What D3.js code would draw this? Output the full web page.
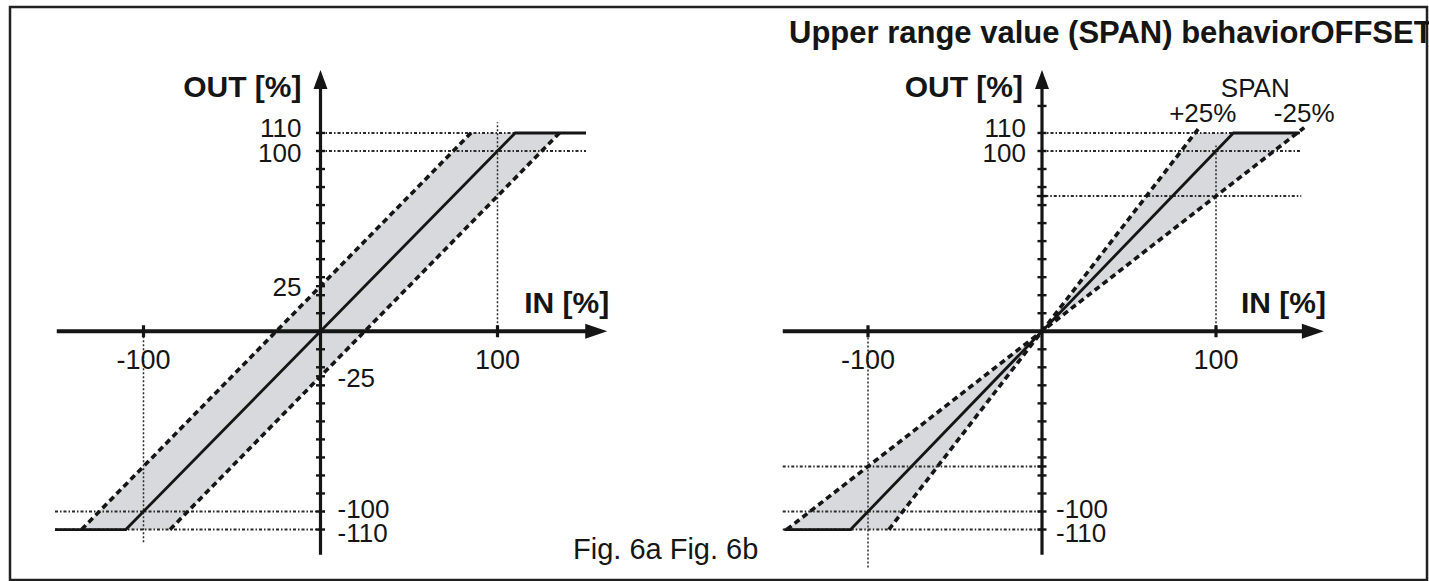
<!DOCTYPE html>
<html>
<head>
<meta charset="utf-8">
<script src="https://cdn.jsdelivr.net/npm/d3@7"></script>
<style>
    body { margin: 0; background: #fff; }
    text { font-family: "Liberation Sans", Arial, sans-serif; fill: #151515; }
</style>
</head>
<body>
<svg id="chart"></svg>
<script>
// ---- data ----
const titleText = "Upper range value (SPAN) behaviorOFFSET";
const captionText = "Fig. 6a Fig. 6b";
const outTitle = "OUT [%]";
const inTitle = "IN [%]";

// Fig. 6a : zero point (OFFSET) shifted by +/-25 %
const offsetCurve = [[-150, -110], [-110, -110], [110, 110], [150, 110]];
const offsetUpper = [[-135, -110], [85, 110]];
const offsetLower = [[-85, -110], [135, 110]];
const offsetBand = [[-135, -110], [85, 110], [135, 110], [-85, -110]];
const offsetYTicks = [110, 100, 90, 80, 70, 60, 50, 40, 30, 25, 20, 10, -10, -20, -25, -30, -40, -50, -60, -70, -80, -90, -100, -110];
const offsetYLabels = [110, 100, 25, -25, -100, -110];
const offsetXLabels = [-100, 100];
// [value, from, to]
const offsetHGuides = [[110, 0, 150], [100, 0, 150], [-100, -150, 3], [-110, -150, 0]];
const offsetVGuides = [[100, 0, 116], [-100, -117, 0]];

// Fig. 6b : upper range value (SPAN) changed by +/-25 %
const spanCurve = [[-148, -110], [-110, -110], [110, 110], [148, 110]];
const spanPlus = [[-88, -110], [90.4, 113]];
const spanMinus = [[-146.7, -110], [150.7, 113]];
const spanBandTop = [[0, 0], [88, 110], [146.7, 110]];
const spanBandBottom = [[0, 0], [-88, -110], [-146.7, -110]];
const spanYTicks = [125, 110, 100, 90, 80, 75, 70, 60, 50, 40, 30, 20, 10, -10, -20, -30, -40, -50, -60, -70, -75, -80, -90, -100, -110];
const spanYLabels = [110, 100, -100, -110];
const spanXLabels = [-100, 100];
const spanHGuides = [[110, 0, 149], [100, 0, 149], [75, -3, 149], [-75, -149, 0], [-100, -149, 0], [-110, -149, 0]];
const spanVGuides = [[100, 0, 103], [-100, -131, 0]];
const spanNames = ["SPAN", "+25%", "-25%"];

// ---- layout ----
const W = 1429, H = 581;
const svg = d3.select("#chart").attr("width", W).attr("height", H);

const yScale = d3.scaleLinear().domain([-100, 100]).range([511.5, 151]);
const panels = [
    { x: d3.scaleLinear().domain([-100, 100]).range([143.5, 497.5]) },
    { x: d3.scaleLinear().domain([-100, 100]).range([868, 1216]) }
];
const xExtent = [-149, 162], yExtent = [-124, 145];
const labelNudge = { "110": 4, "100": 11, "25": 10, "-25": 11, "-100": 6, "-110": 12 };

// frame
svg.append("rect")
    .attr("x", 10).attr("y", 7)
    .attr("width", 1417).attr("height", 573)
    .attr("fill", "none").attr("stroke", "#222").attr("stroke-width", 2.5);

function drawPanel(p, cfg) {
    const x = p.x, y = yScale;
    const g = svg.append("g");
    const line = d3.line().x(d => x(d[0])).y(d => y(d[1]));
    const x0 = x(0), y0 = y(0);

    // grey band
    cfg.bands.forEach(b => {
        g.append("path").attr("d", line(b) + "Z")
            .attr("fill", "#d8d9dc").attr("stroke", "none");
    });

    // dotted guides
    g.selectAll(".hg").data(cfg.hGuides).join("line")
        .attr("x1", d => x(d[1])).attr("x2", d => x(d[2]))
        .attr("y1", d => y(d[0])).attr("y2", d => y(d[0]))
        .attr("stroke", "#2a2a2a").attr("stroke-width", 1.9)
        .attr("stroke-dasharray", "3,2,1.5,2");
    g.selectAll(".vg").data(cfg.vGuides).join("line")
        .attr("x1", d => x(d[0])).attr("x2", d => x(d[0]))
        .attr("y1", d => y(d[1])).attr("y2", d => y(d[2]))
        .attr("stroke", "#2a2a2a").attr("stroke-width", 1.5)
        .attr("stroke-dasharray", "2,2");

    // dashed limit lines
    cfg.dashed.forEach(l => {
        g.append("path").attr("d", line(l))
            .attr("fill", "none").attr("stroke", "#151515")
            .attr("stroke-width", 3.6).attr("stroke-dasharray", "6,4");
    });

    // characteristic
    g.append("path").attr("d", line(cfg.curve))
        .attr("fill", "none").attr("stroke", "#151515").attr("stroke-width", 2.8);

    // axes
    g.append("line")
        .attr("x1", x(xExtent[0])).attr("x2", x(xExtent[1]) - 16)
        .attr("y1", y0).attr("y2", y0)
        .attr("stroke", "#151515").attr("stroke-width", 3.8);
    g.append("path")
        .attr("d", `M${x(xExtent[1])},${y0} l-22,-7.5 l0,15 Z`)
        .attr("fill", "#151515");
    g.append("line")
        .attr("x1", x0).attr("x2", x0)
        .attr("y1", y(yExtent[0])).attr("y2", y(yExtent[1]) + 14)
        .attr("stroke", "#151515").attr("stroke-width", 3.2);
    g.append("path")
        .attr("d", `M${x0},${y(yExtent[1])} l-7,19 l14,0 Z`)
        .attr("fill", "#151515");

    // ticks
    g.selectAll(".yt").data(cfg.yTicks).join("line")
        .attr("x1", x0 - 4.5).attr("x2", x0 + 4.5)
        .attr("y1", d => y(d)).attr("y2", d => y(d))
        .attr("stroke", "#151515").attr("stroke-width", 2.4);
    g.selectAll(".xt").data(cfg.xLabels).join("line")
        .attr("x1", d => x(d)).attr("x2", d => x(d))
        .attr("y1", y0 - 6).attr("y2", y0 + 6)
        .attr("stroke", "#151515").attr("stroke-width", 3.2);

    // tick labels
    g.selectAll(".xl").data(cfg.xLabels).join("text")
        .attr("x", d => x(d)).attr("y", y0 + 38)
        .attr("text-anchor", "middle").attr("font-size", 27)
        .text(d => d);
    g.selectAll(".yl").data(cfg.yLabels).join("text")
        .attr("x", d => d > 0 ? x0 - cfg.labelGap : x0 + cfg.labelGap - 2)
        .attr("y", d => y(d) + labelNudge[d])
        .attr("text-anchor", d => d > 0 ? "end" : "start")
        .attr("font-size", 26)
        .text(d => d);

    // axis titles
    g.append("text")
        .attr("x", x0 - 19).attr("y", 97)
        .attr("text-anchor", "end").attr("font-size", 30).attr("font-weight", "bold")
        .text(outTitle);
    g.append("text")
        .attr("x", x(xExtent[1]) + 2).attr("y", 313)
        .attr("text-anchor", "end").attr("font-size", 30).attr("font-weight", "bold")
        .text(inTitle);
    return g;
}

drawPanel(panels[0], {
    bands: [offsetBand], dashed: [offsetUpper, offsetLower], curve: offsetCurve,
    hGuides: offsetHGuides, vGuides: offsetVGuides,
    yTicks: offsetYTicks, yLabels: offsetYLabels, xLabels: offsetXLabels, labelGap: 19
});

const g2 = drawPanel(panels[1], {
    bands: [spanBandTop, spanBandBottom], dashed: [spanPlus, spanMinus], curve: spanCurve,
    hGuides: spanHGuides, vGuides: spanVGuides,
    yTicks: spanYTicks, yLabels: spanYLabels, xLabels: spanXLabels, labelGap: 16
});

// SPAN labels at the ends of the limit lines
const px = panels[1].x;
const plusEnd = spanPlus[1], minusEnd = spanMinus[1];
g2.append("text")
    .attr("x", px((plusEnd[0] + minusEnd[0]) / 2 + 2)).attr("y", yScale(plusEnd[1]) - 31)
    .attr("text-anchor", "middle").attr("font-size", 26).text(spanNames[0]);
g2.append("text")
    .attr("x", px(plusEnd[0] + 2)).attr("y", yScale(plusEnd[1]) - 6)
    .attr("text-anchor", "middle").attr("font-size", 26).text(spanNames[1]);
g2.append("text")
    .attr("x", px(minusEnd[0])).attr("y", yScale(minusEnd[1]) - 6)
    .attr("text-anchor", "middle").attr("font-size", 26).text(spanNames[2]);

// title and caption
svg.append("text")
    .attr("x", 789).attr("y", 43)
    .attr("font-size", 31).attr("font-weight", "bold")
    .text(titleText);
svg.append("text")
    .attr("x", 573).attr("y", 559)
    .attr("font-size", 29)
    .text(captionText);
</script>
</body>
</html>
